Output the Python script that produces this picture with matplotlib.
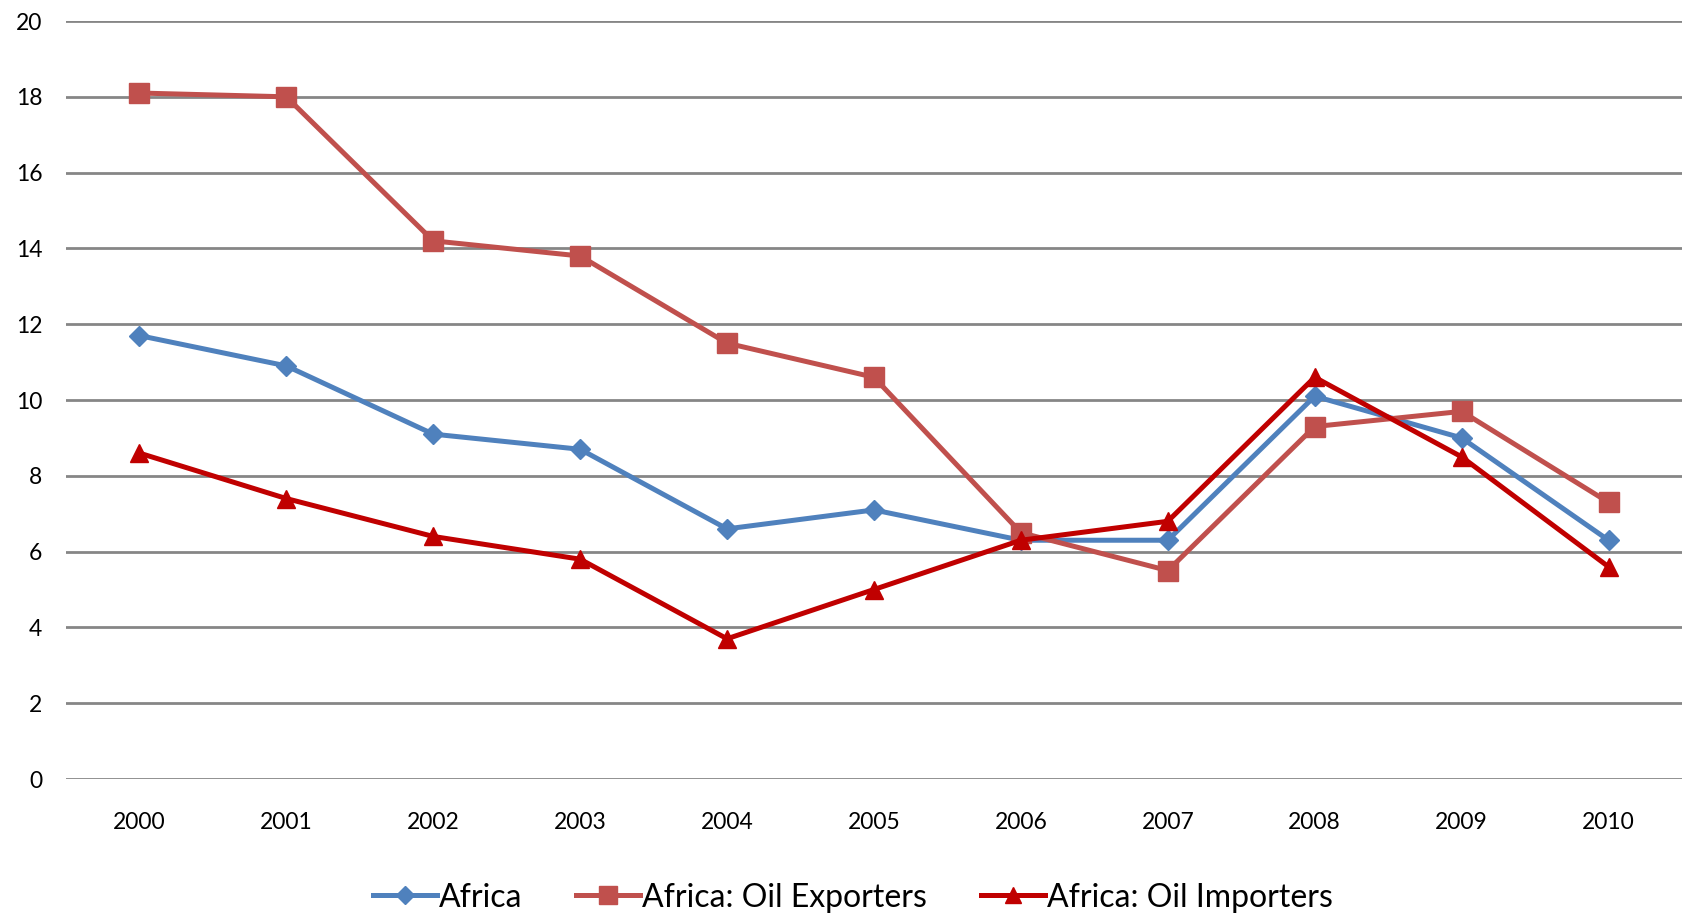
import matplotlib
matplotlib.use("Agg")
import matplotlib.pyplot as plt
from matplotlib.ticker import MultipleLocator

years = ["2000", "2001", "2002", "2003", "2004", "2005", "2006", "2007", "2008", "2009", "2010"]
africa = [11.7, 10.9, 9.1, 8.7, 6.6, 7.1, 6.3, 6.3, 10.1, 9.0, 6.3]
exporters = [18.1, 18.0, 14.2, 13.8, 11.5, 10.6, 6.5, 5.5, 9.3, 9.7, 7.3]
importers = [8.6, 7.4, 6.4, 5.8, 3.7, 5.0, 6.3, 6.8, 10.6, 8.5, 5.6]
labels = ["Africa", "Africa: Oil Exporters", "Africa: Oil Importers"]

plt.rcParams['font.family'] = ['Lato', 'DejaVu Sans']

fig = plt.figure(figsize=(16.82, 9.14), dpi=100)
ax = fig.add_axes([0.0392, 0.1477, 0.9608, 0.8293])

x = list(range(len(years)))
ax.plot(x, africa, color='#4F81BD', lw=3.6, marker='D', ms=10, label=labels[0], zorder=3)
ax.plot(x, exporters, color='#C0504D', lw=3.6, marker='s', ms=14, label=labels[1], zorder=3)
ax.plot(x, importers, color='#C00000', lw=3.6, marker='^', ms=13, label=labels[2], zorder=4)

ax.set_xlim(-0.5, len(years) - 0.5)
ax.set_ylim(0, 20)
ax.yaxis.set_major_locator(MultipleLocator(2))
ax.set_xticks(x)
ax.set_xticklabels(years)
ax.grid(axis='y', color='#868686', lw=2)
ax.set_axisbelow(True)
for s in ax.spines.values():
    s.set_visible(False)
ax.tick_params(axis='both', length=0, labelsize=16.5)
ax.tick_params(axis='x', pad=24)
ax.tick_params(axis='y', pad=17)

leg = fig.legend(loc='center', bbox_to_anchor=(0.507, 0.018), ncol=3, frameon=False,
                 fontsize=23, handlelength=2.0, handletextpad=0.05, columnspacing=1.7,
                 markerscale=0.9)

fig.savefig("out.png", dpi=100)
